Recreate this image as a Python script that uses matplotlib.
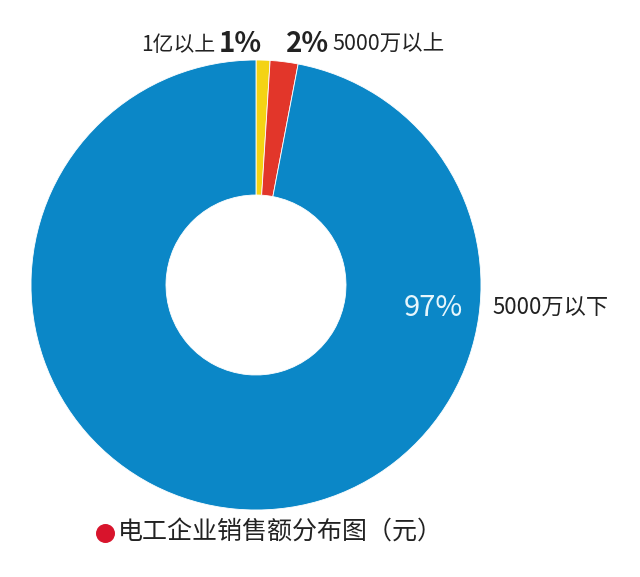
import matplotlib
matplotlib.use('Agg')
import matplotlib.pyplot as plt

plt.rcParams['font.family'] = ['Noto Sans CJK SC', 'DejaVu Sans']

# 数据
categories = ['1亿以上', '5000万以上', '5000万以下']
shares = [1, 2, 97]
colors = ['#f4d314', '#e2362a', '#0b87c7']
title = '电工企业销售额分布图（元）'

W, H = 640, 577
fig = plt.figure(figsize=(W / 100, H / 100), dpi=100)
ax = fig.add_axes([0, 0, 1, 1])

cx, cy, R = 256, H - 285, 225
wedges, _ = ax.pie(shares, colors=colors, startangle=90, counterclock=False,
                   center=(cx, cy), radius=R, frame=True,
                   wedgeprops=dict(width=R - 90, edgecolor='white', linewidth=0.6))
ax.set_xlim(0, W)
ax.set_ylim(0, H)
ax.set_aspect('equal')
ax.axis('off')

# 标签
ax.text(215, H - 45, categories[0], fontsize=15, ha='right', va='center', color='#222222')
ax.text(219, H - 44, f'{shares[0]}%', fontsize=20, fontweight='bold', ha='left', va='center', color='#222222')
ax.text(286, H - 44, f'{shares[1]}%', fontsize=20, fontweight='bold', ha='left', va='center', color='#222222')
ax.text(332, H - 45, categories[1], fontsize=15.5, ha='left', va='center', color='#222222')
ax.text(404, H - 308, f'{shares[2]}%', fontsize=21, ha='left', va='center', color='#e6f6fc')
ax.text(492, H - 308, categories[2], fontsize=16, ha='left', va='center', color='#222222')

# 图例标题
ax.scatter([105], [H - 533], s=160, color='#d8142c', zorder=3)
ax.text(118, H - 533, title, fontsize=18, ha='left', va='center', color='#222222')

fig.savefig('out.png', dpi=100)
